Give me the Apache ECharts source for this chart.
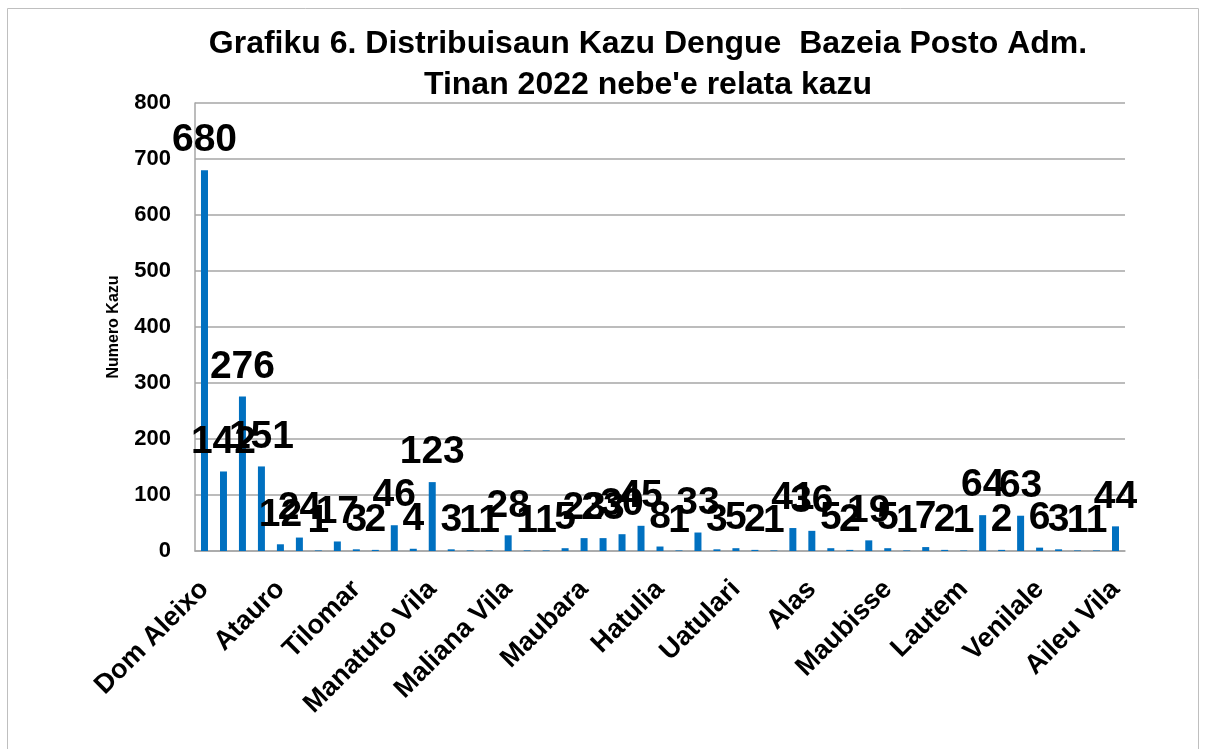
<!DOCTYPE html>
<html>
<head>
<meta charset="utf-8">
<script src="https://cdn.jsdelivr.net/npm/echarts@6/dist/echarts.min.js"></script>
<style>html,body{margin:0;padding:0;background:#fff;}#c{width:1207px;height:749px;}</style>
</head>
<body>
<div id="c"></div>
<script>
const categories = [
  'Dom Aleixo','Cristo Rei','Vera Cruz','Nain Feto','Atauro','Metinaro','Suai','Zumalai','Tilomar','Fohorem',
  'Laleia','Soibada','Manatuto Vila','Atabae','Balibo','Bobonaro','Maliana Vila','Cailaco','Lolotoe','Gleno',
  'Maubara','Liquiça Vila','Bazartete','Railaco','Hatulia','Letefoho','Viqueque Vila','Ossu','Uatulari','Lacluta',
  'Same','Turiscai','Alas','Fatuberliu','Ainaro Vila','Hatu Builico','Maubisse','Hatudo','Los Palos','Iliomar',
  'Lautem','Tutuala','Baucau Vila','Vemasse','Venilale','Baguia','Quelicai','Laulara','Aileu Vila'
];
const cases = [
  680,142,276,151,12,24,1,17,3,2,
  46,4,123,3,1,1,28,1,1,5,
  23,23,30,45,8,1,33,3,5,2,
  1,41,36,5,2,19,5,1,7,2,
  1,64,2,63,6,3,1,1,44
];
const yTicks = { min: 0, max: 800, interval: 100 };
const titleLines = ['Grafiku 6. Distribuisaun Kazu Dengue  Bazeia Posto Adm.', "Tinan 2022 nebe'e relata kazu"];
const yAxisName = 'Numero Kazu';

const SANS = '"Liberation Sans", Arial, sans-serif';
const NARROW = '"Liberation Sans Narrow", "Arial Narrow", sans-serif';
const chart = echarts.init(document.getElementById('c'), null, {renderer: 'canvas'});
chart.setOption({
  animation: false,
  backgroundColor: '#fff',
  graphic: [{
    type: 'rect', shape: {x: 7.5, y: 8.5, width: 1191, height: 760},
    style: {fill: 'none', stroke: '#bfbfbf', lineWidth: 1}, silent: true
  }],
  title: {
    text: titleLines.join('\n'),
    left: 643, top: 19, textAlign: 'center',
    textStyle: {fontFamily: SANS, fontWeight: 'bold', fontSize: 32, lineHeight: 41, color: '#000'}
  },
  grid: {left: 195, right: 82, top: 103, bottom: 198, containLabel: false},
  xAxis: {
    type: 'category', data: categories,
    axisLine: {show: true, lineStyle: {color: '#a6a6a6', width: 1.5}},
    axisTick: {show: false},
    axisLabel: {interval: 3, rotate: 45, margin: 34, color: '#000',
      fontFamily: SANS, fontWeight: 'bold', fontSize: 27}
  },
  yAxis: {
    type: 'value', min: yTicks.min, max: yTicks.max, interval: yTicks.interval,
    name: yAxisName, nameLocation: 'middle', nameRotate: 90, nameGap: 73,
    nameTextStyle: {fontFamily: SANS, fontWeight: 'bold', fontSize: 16, color: '#000'},
    axisLine: {show: true, lineStyle: {color: '#a6a6a6', width: 1.5}},
    axisTick: {show: false},
    axisLabel: {margin: 24, color: '#000', fontFamily: SANS, fontWeight: 'bold', fontSize: 22},
    splitLine: {show: true, lineStyle: {color: '#a6a6a6', width: 1.5}}
  },
  series: [{
    type: 'bar', data: cases, barWidth: 7,
    itemStyle: {color: '#0070C0'},
    label: {show: true, position: 'top', distance: 10, color: '#000',
      fontFamily: NARROW, fontWeight: 'bold', fontSize: 39}
  }]
});
</script>
</body>
</html>
